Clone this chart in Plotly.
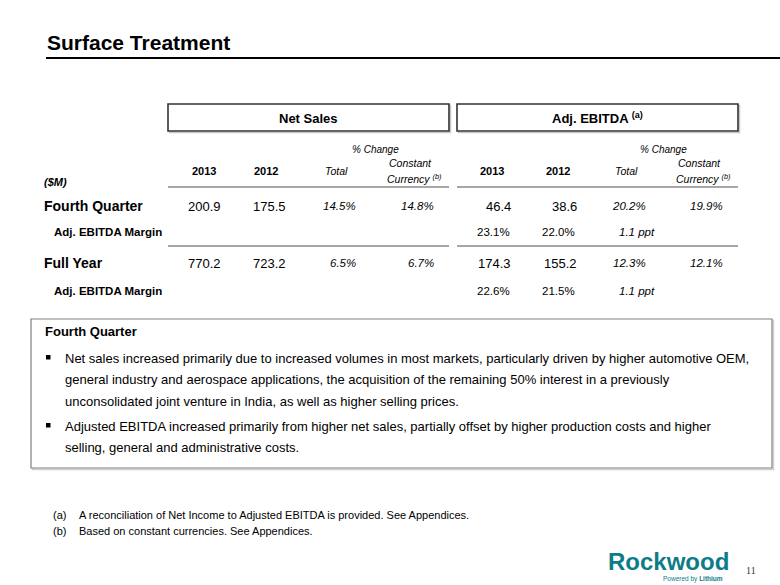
import plotly.graph_objects as go

# ---------------- data ----------------
title = "Surface Treatment"
group_titles = ["Net Sales", "Adj. EBITDA <sup>(a)</sup>"]
col_years = ["2013", "2012"]
row_labels = ["Fourth Quarter", "Adj. EBITDA Margin", "Full Year", "Adj. EBITDA Margin"]

net_sales_2013 = [200.9, 770.2]
net_sales_2012 = [175.5, 723.2]
net_sales_chg_total = [14.5, 6.5]
net_sales_chg_cc = [14.8, 6.7]

ebitda_2013 = [46.4, 174.3]
ebitda_2012 = [38.6, 155.2]
ebitda_chg_total = [20.2, 12.3]
ebitda_chg_cc = [19.9, 12.1]

margin_2013 = [23.1, 22.6]
margin_2012 = [22.0, 21.5]
margin_chg_ppt = [1.1, 1.1]

box_heading = "Fourth Quarter"
bullet_lines = [
    ["Net sales increased primarily due to increased volumes in most markets, particularly driven by higher automotive OEM,",
     "general industry and aerospace applications, the acquisition of the remaining 50% interest in a previously",
     "unconsolidated joint venture in India, as well as higher selling prices."],
    ["Adjusted EBITDA increased primarily from higher net sales, partially offset by higher production costs and higher",
     "selling, general and administrative costs."],
]
footnotes = [("(a)", "A reconciliation of Net Income to Adjusted EBITDA is provided. See Appendices."),
             ("(b)", "Based on constant currencies. See Appendices.")]
page_number = "11"

# ---------------- figure ----------------
FONT = "Arial, Liberation Sans, Helvetica, sans-serif"
fig = go.Figure()
anns = []
shapes = []


def txt(text, x, y, size, weight="normal", style="normal", xanchor="left",
        color="#000000", family=FONT):
    anns.append(dict(text=text, x=x, y=y, xref="x", yref="y", showarrow=False,
                     xanchor=xanchor, yanchor="middle",
                     font=dict(family=family, size=size, color=color,
                               weight=weight, style=style)))


def line(x0, y0, x1, y1, color, width):
    shapes.append(dict(type="line", xref="x", yref="y", x0=x0, y0=y0, x1=x1, y1=y1,
                       line=dict(color=color, width=width)))


def rect(x0, y0, x1, y1, color, width, fill="rgba(0,0,0,0)"):
    shapes.append(dict(type="rect", xref="x", yref="y", x0=x0, y0=y0, x1=x1, y1=y1,
                       line=dict(color=color, width=width), fillcolor=fill))


# title
txt(title, 45, 42, 21, weight="bold")
line(46, 58, 780, 58, "#000000", 2.2)

# group header boxes
group_x = [(168, 449), (457, 738)]
for (x0, x1), gt in zip(group_x, group_titles):
    rect(x0 + 1.5, 105.5, x1 + 1.5, 132.5, "#c8c8c8", 1.5)
    rect(x0, 104, x1, 131, "#333333", 1.6, fill="#ffffff")
    txt(gt, (x0 + x1) / 2, 118, 13, weight="bold", xanchor="center")

# column headers
year_cx = [[204, 266], [492, 558]]
total_cx = [336, 626]
cc_cx = [414, 703]
chg_cx = [375, 663]
for g in range(2):
    txt("% Change", chg_cx[g], 149, 10, style="italic", xanchor="center")
    for yr, cx in zip(col_years, year_cx[g]):
        txt(yr, cx, 171, 11, weight="bold", xanchor="center")
    txt("Total", total_cx[g], 171, 10.5, style="italic", xanchor="center")
    txt("Constant", cc_cx[g] - 4, 163, 10.5, style="italic", xanchor="center")
    txt("Currency <sup>(b)</sup>", cc_cx[g], 178, 10.5, style="italic", xanchor="center")
txt("($M)", 42, 182, 11, weight="bold", style="italic")

# separator lines
for (x0, x1) in group_x:
    line(x0, 187, x1, 187, "#8a8a8a", 1.5)
    line(x0, 246, x1, 246, "#8a8a8a", 1.5)

# rows
row_y = [206, 232, 263, 291]
label_x = [42, 52, 42, 52]
label_size = [14, 11.5, 14, 11.5]
for lab, y, x, s in zip(row_labels, row_y, label_x, label_size):
    txt(lab, x, y, s, weight="bold")

main_rows = [0, 2]
margin_rows = [1, 3]
ns_right = [223, 288, 358, 436]
eb_right = [513, 579, 648, 725]
for i, r in enumerate(main_rows):
    y = row_y[r]
    txt(f"{net_sales_2013[i]:.1f}", ns_right[0], y, 13, xanchor="right")
    txt(f"{net_sales_2012[i]:.1f}", ns_right[1], y, 13, xanchor="right")
    txt(f"{net_sales_chg_total[i]:.1f}%", ns_right[2], y, 11.5, style="italic", xanchor="right")
    txt(f"{net_sales_chg_cc[i]:.1f}%", ns_right[3], y, 11.5, style="italic", xanchor="right")
    txt(f"{ebitda_2013[i]:.1f}", eb_right[0], y, 13, xanchor="right")
    txt(f"{ebitda_2012[i]:.1f}", eb_right[1], y, 13, xanchor="right")
    txt(f"{ebitda_chg_total[i]:.1f}%", eb_right[2], y, 11.5, style="italic", xanchor="right")
    txt(f"{ebitda_chg_cc[i]:.1f}%", eb_right[3], y, 11.5, style="italic", xanchor="right")
for i, r in enumerate(margin_rows):
    y = row_y[r]
    txt(f"{margin_2013[i]:.1f}%", 512, y, 11.5, xanchor="right")
    txt(f"{margin_2012[i]:.1f}%", 577, y, 11.5, xanchor="right")
    txt(f"{margin_chg_ppt[i]:.1f} ppt", 657, y, 11.5, style="italic", xanchor="right")

# commentary box
rect(32.5, 320.5, 773.5, 469.5, "#d0d0d0", 1.5)
rect(31, 319, 772, 468, "#808080", 1.2, fill="#ffffff")
txt(box_heading, 43, 331, 13, weight="bold")
y = 358
for block in bullet_lines:
    shapes.append(dict(type="rect", xref="x", yref="y", x0=46, x1=50.5, y0=y - 3, y1=y + 1.5,
                       line=dict(width=0), fillcolor="#000000"))
    for ln in block:
        txt(ln, 63, y, 13)
        y += 21.5
    y += 3.5

# footnotes
for k, (tag, note) in enumerate(footnotes):
    fy = 515 + 16 * k
    txt(tag, 51, fy, 11)
    txt(note, 77, fy, 11)

# logo + page number
txt("Rockwood", 606, 561, 24, weight="bold", color="#0e7c88",
    family="Liberation Sans Narrow, Arial Narrow, Arial, sans-serif")
txt("Powered by <b>Lithium</b>", 725, 579, 6.5, xanchor="right", color="#0e7c88")
txt(page_number, 744, 570, 10, family="Liberation Serif, Times New Roman, serif", color="#333333")

fig.update_layout(
    width=780, height=585,
    margin=dict(l=0, r=0, t=0, b=0),
    paper_bgcolor="#ffffff", plot_bgcolor="#ffffff",
    xaxis=dict(range=[0, 780], visible=False, fixedrange=True),
    yaxis=dict(range=[585, 0], visible=False, fixedrange=True),
    annotations=anns, shapes=shapes, showlegend=False,
)
fig.write_html("out.html", config={"displayModeBar": False},
               post_script="document.body.style.margin='0';document.body.style.overflow='hidden';")
